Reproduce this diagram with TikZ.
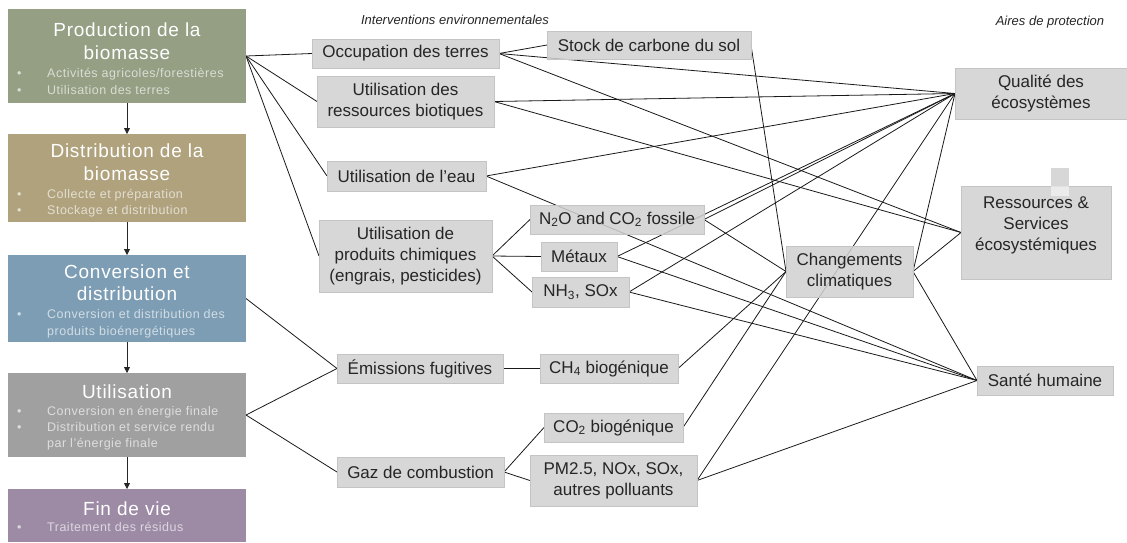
\documentclass[tikz,border=0pt]{standalone}
\usepackage{fontspec}
\setmainfont{Liberation Sans}
\newfontfamily\stagefont[LetterSpace=4]{Liberation Sans}
\usetikzlibrary{arrows.meta}
\pgfdeclarelayer{background}
\pgfsetlayers{background,main}

\definecolor{prodc}{HTML}{949F84}
\definecolor{distc}{HTML}{AFA27D}
\definecolor{convc}{HTML}{7D9DB4}
\definecolor{utilc}{HTML}{A0A0A0}
\definecolor{finc}{HTML}{9D8BA6}
\definecolor{boxc}{HTML}{D0D0D0}
\definecolor{boxline}{HTML}{C4C4C4}
\definecolor{txtc}{HTML}{262626}

\newcommand\itm[1]{\makebox[30pt][l]{•}#1}

\begin{document}
\begin{tikzpicture}[x=1pt,y=-1pt,
  stage/.style={draw=none, minimum width=238pt, inner sep=0pt, outer sep=0pt},
  stitle/.style={anchor=base, inner sep=0pt, text=white, font=\stagefont\fontsize{19}{23}\selectfont},
  sitem/.style={anchor=base west, inner sep=0pt, text=white, text opacity=0.65, font=\stagefont\fontsize{12.5}{16}\selectfont},
  flow/.style={line width=0.8pt, draw=black!85, -{Triangle[length=6pt,width=6pt]}},
  boxfont/.style={text=txtc, align=center, font=\fontsize{17}{21}\selectfont},
  box/.style={fill=boxc, fill opacity=0.86, text opacity=1, draw=boxline, line width=0.6pt,
    inner sep=0pt, outer sep=0pt, boxfont},
  link/.style={line width=0.8pt, draw=black!90},
  note/.style={inner sep=0pt, text=txtc, font=\fontsize{13}{15}\selectfont\itshape}]

\useasboundingbox (0,0) rectangle (1127,542);

% life-cycle stages
\node[stage, fill=prodc, minimum height=94pt] (prod) at (127,56) {};
\node[stage, fill=distc, minimum height=88pt] (dist) at (127,178) {};
\node[stage, fill=convc, minimum height=87pt] (conv) at (127,298.5) {};
\node[stage, fill=utilc, minimum height=84pt] (util) at (127,415) {};
\node[stage, fill=finc, minimum height=53pt] (fin) at (127,515.5) {};

\draw[flow] (prod.south) -- (dist.north);
\draw[flow] (dist.south) -- (conv.north);
\draw[flow] (conv.south) -- (util.north);
\draw[flow] (util.south) -- (fin.north);

\node[stitle] (prodA) at (127,36) {Production de la};
\node[stitle] (prodB) at (127,59) {biomasse};
\node[sitem] (prodC) at (17,77) {\itm{Activités agricoles/forestières}};
\node[sitem] (prodD) at (17,94) {\itm{Utilisation des terres}};

\node[stitle] (distA) at (127,157) {Distribution de la};
\node[stitle] (distB) at (127,180) {biomasse};
\node[sitem] (distC) at (17,198) {\itm{Collecte et préparation}};
\node[sitem] (distD) at (17,214) {\itm{Stockage et distribution}};

\node[stitle] (convA) at (127,278) {Conversion et};
\node[stitle] (convB) at (127,300) {distribution};
\node[sitem] (convC) at (17,318) {\itm{Conversion et distribution des}};
\node[sitem] (convD) at (47,335) {produits bioénergétiques};

\node[stitle] (utilA) at (127,398) {Utilisation};
\node[sitem] (utilB) at (17,415) {\itm{Conversion en énergie finale}};
\node[sitem] (utilC) at (17,431) {\itm{Distribution et service rendu}};
\node[sitem] (utilD) at (47,447) {par l’énergie finale};

\node[stitle] (finA) at (127,515) {Fin de vie};
\node[sitem] (finB) at (17,531) {\itm{Traitement des résidus}};

% column headings
\node[note] (ie) at (455,20) {Interventions environnementales};
\node[note] (ap) at (1050,22) {Aires de protection};

% environmental interventions
\node[box, minimum width=187pt, minimum height=29pt] (occ) at (405.5,53.5) {Occupation des terres};
\node[box, minimum width=177pt, minimum height=51pt] (rbio) at (405.5,101.5) {Utilisation des\\ressources biotiques};
\node[box, minimum width=159pt, minimum height=30pt] (eau) at (406.5,176) {Utilisation de l’eau};
\node[box, minimum width=173pt, minimum height=72pt] (chim) at (405.5,256) {Utilisation de\\produits chimiques\\(engrais, pesticides)};
\node[box, minimum width=204pt, minimum height=28pt] (stock) at (649,45) {Stock de carbone du sol};
\node[box, minimum width=174pt, minimum height=29pt] (n2o) at (617,219.5) {N\textsubscript{2}O and CO\textsubscript{2} fossile};
\node[box, minimum width=76pt, minimum height=29pt] (met) at (579,256.5) {Métaux};
\node[box, minimum width=97pt, minimum height=30pt] (nh3) at (580.5,292) {NH\textsubscript{3}, SOx};
\node[box, minimum width=166pt, minimum height=29pt] (emi) at (420,368.5) {Émissions fugitives};
\node[box, minimum width=138pt, minimum height=29pt] (ch4) at (609,368.5) {CH\textsubscript{4} biogénique};
\node[box, minimum width=139pt, minimum height=29pt] (co2b) at (613.5,427.5) {CO\textsubscript{2} biogénique};
\node[box, minimum width=167pt, minimum height=30pt] (gaz) at (420.5,472) {Gaz de combustion};
\node[box, minimum width=167pt, minimum height=51pt] (pm) at (613.5,480.5) {PM2.5, NOx, SOx,\\autres polluants};

% areas of protection
\node[box, minimum width=172pt, minimum height=51pt] (qual) at (1041,93.5) {Qualité des\\écosystèmes};
\node[box, minimum width=150pt, minimum height=93pt] (ress) at (1036,232.5) {};
\node[box, draw=none, minimum width=18pt, minimum height=18pt] (tab) at (1060,177) {};
\node[fill=white, fill opacity=0.5, inner sep=0pt, minimum width=18pt, minimum height=10pt] (tabfoot) at (1060,191) {};
\node[boxfont, inner sep=0pt] (ressT) at (1036,225) {Ressources \&\\Services\\écosystémiques};
\node[box, minimum width=127pt, minimum height=51pt] (chg) at (849.5,271.5) {Changements\\climatiques};
\node[box, minimum width=136pt, minimum height=29pt] (sante) at (1045,380.5) {Santé humaine};

% impact pathways
\begin{pgfonlayer}{background}
\foreach \t in {occ,rbio,eau,chim} \draw[link] (prod.east) -- (\t.west);
\draw[link] (conv.east) -- (emi.west);
\draw[link] (util.east) -- (emi.west);
\draw[link] (util.east) -- (gaz.west);

\foreach \t in {stock,qual,ress} \draw[link] (occ.east) -- (\t.west);
\foreach \t in {qual,ress} \draw[link] (rbio.east) -- (\t.west);
\foreach \t in {qual,sante} \draw[link] (eau.east) -- (\t.west);
\foreach \t in {n2o,met,nh3} \draw[link] (chim.east) -- (\t.west);
\foreach \t in {qual,chg} \draw[link] (n2o.east) -- (\t.west);
\foreach \t in {qual,sante} \draw[link] (met.east) -- (\t.west);
\foreach \t in {qual,sante} \draw[link] (nh3.east) -- (\t.west);
\draw[link] (stock.east) -- (chg.west);
\draw[link] (emi.east) -- (ch4.west);
\draw[link] (ch4.east) -- (chg.west);
\foreach \t in {co2b,pm} \draw[link] (gaz.east) -- (\t.west);
\draw[link] (co2b.east) -- (chg.west);
\foreach \t in {qual,sante} \draw[link] (pm.east) -- (\t.west);
\foreach \t in {qual,ress,sante} \draw[link] (chg.east) -- (\t.west);
\end{pgfonlayer}
\end{tikzpicture}
\end{document}
